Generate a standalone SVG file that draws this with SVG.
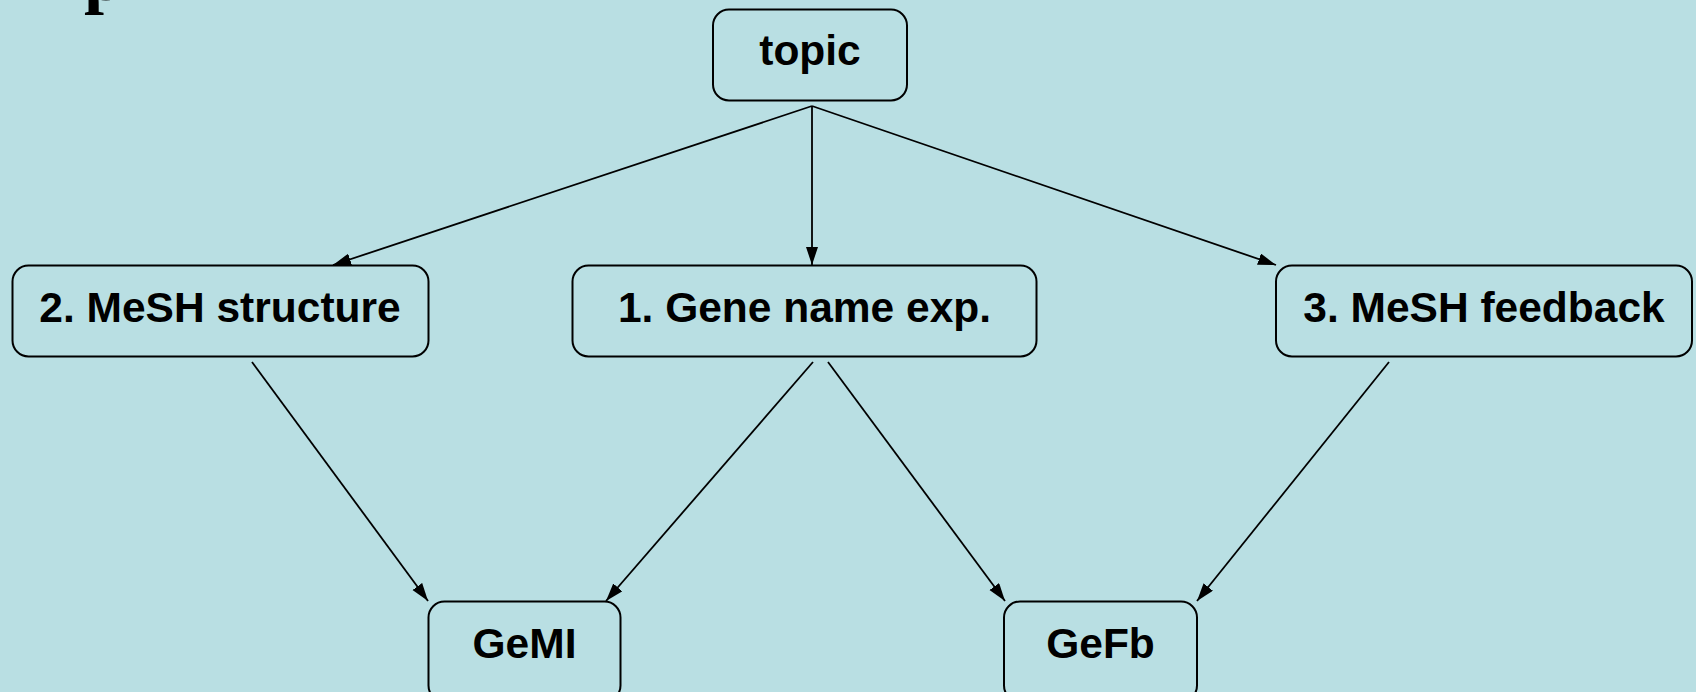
<svg xmlns="http://www.w3.org/2000/svg" width="1696" height="692" viewBox="0 0 1696 692">
<style>
.box{fill:none;stroke:#000;stroke-width:2}
.lbl{font-family:"Liberation Sans",Arial,sans-serif;font-weight:bold;font-size:42.5px;fill:#000;text-anchor:middle}
.conn{stroke:#000;stroke-width:1.8;fill:none;marker-end:url(#arr)}
</style>
<defs>
<marker id="arr" markerUnits="userSpaceOnUse" markerWidth="19" markerHeight="13" refX="18" refY="6" orient="auto">
<path d="M0,0 L18,6 L0,12 z" fill="#000"/>
</marker>
</defs>
<rect width="1696" height="692" fill="#B9DFE3"/>
<text x="84" y="0" font-family="'Liberation Serif','Times New Roman',serif" font-weight="bold" font-size="72" fill="#000">p</text>
<g id="connectors">
<line class="conn" x1="812" y1="106" x2="333" y2="265"/>
<line class="conn" x1="812" y1="106" x2="812" y2="265"/>
<line class="conn" x1="812" y1="106" x2="1276" y2="265"/>
<line class="conn" x1="252" y1="362" x2="428" y2="601"/>
<line class="conn" x1="813" y1="362" x2="606" y2="601"/>
<line class="conn" x1="828" y1="362" x2="1005" y2="601"/>
<line class="conn" x1="1389" y1="362" x2="1197" y2="601"/>
</g>
<g id="topic">
<rect class="box" x="713" y="9.5" width="194" height="91" rx="16"/>
<text class="lbl" x="810" y="65">topic</text>
</g>
<g id="mesh-structure">
<rect class="box" x="12.5" y="265.5" width="416" height="91" rx="16"/>
<text class="lbl" x="220" y="322">2. MeSH structure</text>
</g>
<g id="gene-name">
<rect class="box" x="572.5" y="265.5" width="464" height="91" rx="16"/>
<text class="lbl" x="804.5" y="322">1. Gene name exp.</text>
</g>
<g id="mesh-feedback">
<rect class="box" x="1276" y="265.5" width="416" height="91" rx="16"/>
<text class="lbl" x="1484" y="322">3. MeSH feedback</text>
</g>
<g id="gemi">
<rect class="box" x="428.5" y="601.5" width="192" height="100" rx="16"/>
<text class="lbl" x="524.5" y="658">GeMI</text>
</g>
<g id="gefb">
<rect class="box" x="1004" y="601.5" width="193" height="100" rx="16"/>
<text class="lbl" x="1100.5" y="658">GeFb</text>
</g>
</svg>
